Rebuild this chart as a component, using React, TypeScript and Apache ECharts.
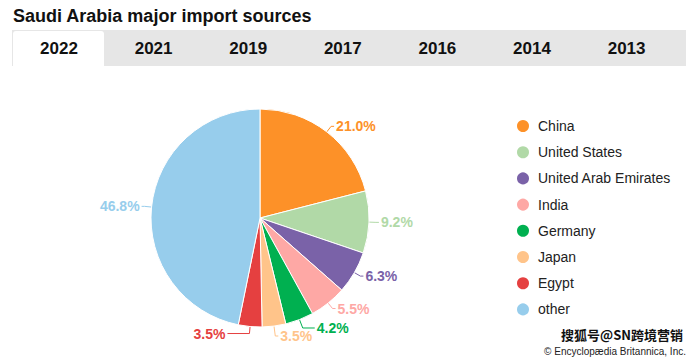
import React, { useEffect, useRef } from "react";
import * as echarts from "echarts";

const title = "Saudi Arabia major import sources";
const years = ["2022", "2021", "2019", "2017", "2016", "2014", "2013"];
const countries = ["China", "United States", "United Arab Emirates", "India", "Germany", "Japan", "Egypt", "other"];
const shares = [21.0, 9.2, 6.3, 5.5, 4.2, 3.5, 3.5, 46.8];
const colors = ["#fd9128", "#b1d9a7", "#7a62a8", "#fea8a5", "#00b050", "#ffc48a", "#e54040", "#97cdec"];
const lineLen = [7, 7, 7, 7, 9, 10, 7, 7];
const lineLen2 = [3, 3, 3, 3, 12, 3, 22, 3];

export default function App() {
  const ref = useRef<HTMLDivElement>(null);
  useEffect(() => {
    const chart = echarts.init(ref.current!, null, { renderer: "svg" });
    const tabX0 = 12;
    const tabW = 94.6;
    const tabs: any[] = [
      { type: "rect", shape: { x: 12, y: 30, width: 674, height: 36 }, style: { fill: "#e6e6e6" } },
      { type: "rect", shape: { x: 13, y: 31, width: 91, height: 35, r: [3, 3, 0, 0] }, style: { fill: "#ffffff" } },
    ];
    years.forEach((y, i) => {
      tabs.push({
        type: "text",
        x: tabX0 + 47 + i * tabW,
        y: 48,
        style: {
          text: y,
          fill: "#111",
          font: "bold 17px 'Liberation Sans', Arial, sans-serif",
          align: "center",
          verticalAlign: "middle",
        },
      });
    });
    chart.setOption({
      animation: false,
      color: colors,
      graphic: [
        {
          type: "text",
          x: 13,
          y: 16,
          style: {
            text: title,
            fill: "#111",
            font: "bold 18px 'Liberation Sans', Arial, sans-serif",
            verticalAlign: "middle",
          },
        },
        ...tabs,
        {
          type: "text",
          x: 686,
          y: 351,
          style: {
            text: "© Encyclopædia Britannica, Inc.",
            fill: "#222",
            font: "10px 'Liberation Sans', Arial, sans-serif",
            align: "right",
            verticalAlign: "middle",
          },
        },
        {
          type: "text",
          x: 683,
          y: 334,
          style: {
            text: "搜狐号@SN跨境营销",
            fill: "#111",
            font: "bold 13px 'Noto Sans CJK SC', sans-serif",
            align: "right",
            verticalAlign: "middle",
            stroke: "#fff",
            lineWidth: 2,
          },
        },
      ],
      legend: {
        orient: "vertical",
        left: 510,
        top: 113,
        icon: "circle",
        itemWidth: 14,
        itemHeight: 14,
        itemGap: 10.2,
        textStyle: {
          fontSize: 14,
          lineHeight: 16,
          color: "#222",
          fontFamily: "'Liberation Sans', Arial, sans-serif",
          padding: [0, 0, 0, 3],
        },
        data: countries,
      },
      series: [
        {
          type: "pie",
          center: [260, 218],
          radius: [0, 109],
          startAngle: 90,
          clockwise: true,
          avoidLabelOverlap: false,
          labelLayout: { hideOverlap: false },
          itemStyle: { borderColor: "#fff", borderWidth: 1 },
          label: {
            show: true,
            position: "outside",
            formatter: (p: any) => p.value.toFixed(1) + "%",
            fontSize: 14,
            fontWeight: "bold",
            fontFamily: "'Liberation Sans', Arial, sans-serif",
            color: "inherit",
            distanceToLabelLine: 2,
          },
          labelLine: { show: true, length: 7, length2: 3, lineStyle: { width: 1 } },
          data: countries.map((c, i) => ({
            name: c,
            value: shares[i],
            label: { color: colors[i] },
            labelLine: { length: lineLen[i], length2: lineLen2[i] },
          })),
        },
      ],
    });
    return () => chart.dispose();
  }, []);
  return <div ref={ref} style={{ width: 699, height: 359, position: "absolute", left: 0, top: 0 }} />;
}
